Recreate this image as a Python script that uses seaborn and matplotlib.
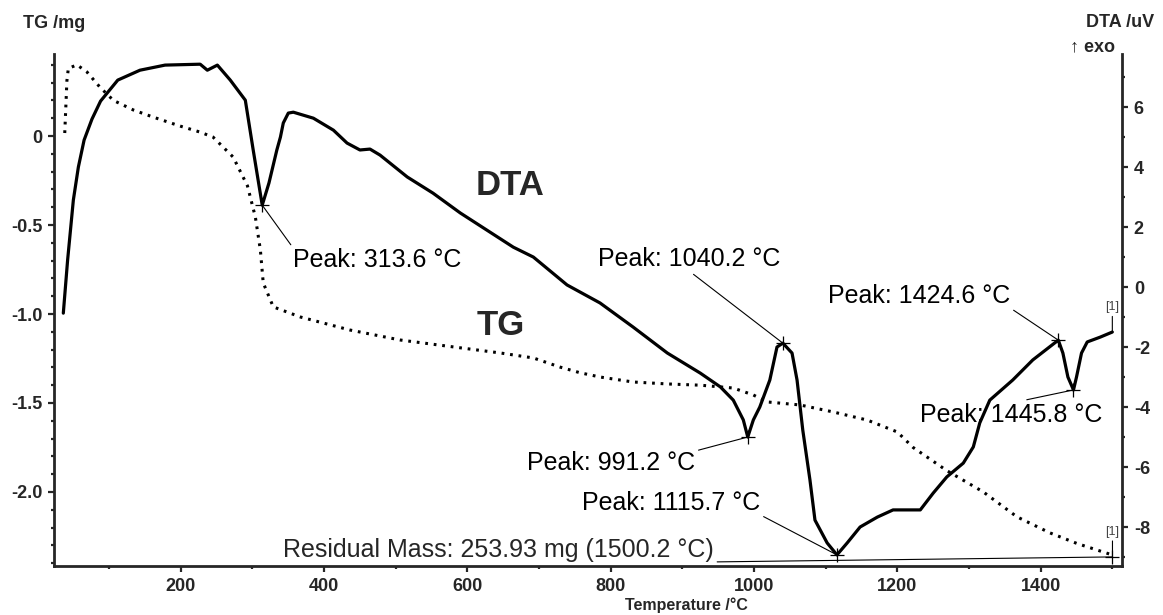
import matplotlib
matplotlib.use("Agg")
import matplotlib.pyplot as plt
from matplotlib.ticker import MultipleLocator
import seaborn as sns

# ---------------- data ----------------
tg_temp = [38, 41, 43, 55, 69, 87, 106, 134, 161, 199, 227, 245, 273, 293, 304, 311,
           315, 329, 367, 436, 506, 590, 646, 692, 729, 757, 785, 831, 879, 925, 971,
           999, 1018, 1064, 1110, 1158, 1200, 1222, 1269, 1320, 1367, 1413, 1451, 1497, 1500.2]
tg_mass = [0.017, 0.31, 0.38, 0.40, 0.36, 0.275, 0.20, 0.146, 0.107, 0.056, 0.022, -0.006,
           -0.118, -0.28, -0.455, -0.64, -0.825, -0.96, -1.017, -1.09, -1.146, -1.19, -1.219,
           -1.247, -1.298, -1.33, -1.354, -1.382, -1.393, -1.40, -1.416, -1.455, -1.494, -1.511,
           -1.55, -1.596, -1.663, -1.75, -1.88, -2.0, -2.14, -2.23, -2.29, -2.35, -2.365]

dta_temp = [36, 42, 50, 57, 65, 76, 88, 112, 143, 178, 227, 237, 251, 269, 290, 301, 313.6,
            323, 334, 339, 343, 350, 357, 385, 413, 432, 450, 464, 478, 516, 552, 590, 627,
            664, 692, 739, 785, 831, 879, 925, 953, 971, 985, 991.2, 999, 1008, 1022, 1032,
            1040.2, 1053, 1060, 1068, 1078, 1085, 1102, 1115.7, 1130, 1148, 1172, 1194, 1232,
            1250, 1269, 1292, 1306, 1315, 1329, 1361, 1389, 1424.6, 1431, 1438, 1445.8, 1450,
            1457, 1465, 1483, 1500]
dta_uv = [-0.87, 0.9, 2.9, 4.0, 4.9, 5.6, 6.2, 6.9, 7.23, 7.4, 7.43, 7.23, 7.4, 6.9, 6.23,
          4.57, 2.73, 3.47, 4.57, 5.0, 5.47, 5.8, 5.83, 5.63, 5.23, 4.8, 4.57, 4.6, 4.4, 3.67,
          3.13, 2.47, 1.9, 1.33, 1.0, 0.07, -0.53, -1.33, -2.2, -2.87, -3.33, -3.77, -4.43,
          -5.0, -4.43, -4.0, -3.1, -2.0, -1.87, -2.2, -3.1, -4.77, -6.43, -7.77, -8.53, -8.93,
          -8.53, -8.0, -7.67, -7.43, -7.43, -6.87, -6.33, -5.87, -5.33, -4.53, -3.77, -3.1,
          -2.43, -1.77, -2.2, -3.0, -3.43, -3.0, -2.2, -1.83, -1.67, -1.5]

peak_temps = [313.6, 1040.2, 991.2, 1115.7, 1424.6, 1445.8]
peak_vals = [2.73, -1.87, -5.0, -8.93, -1.77, -3.43]
peak_labels = ["Peak: 313.6 °C", "Peak: 1040.2 °C", "Peak: 991.2 °C",
               "Peak: 1115.7 °C", "Peak: 1424.6 °C", "Peak: 1445.8 °C"]

residual_temp = 1500.2
residual_mass = -2.365
residual_label = "Residual Mass: 253.93 mg (1500.2 °C)"

x_ticks = [200, 400, 600, 800, 1000, 1200, 1400]
x_tick_labels = ["200", "400", "600", "800", "1000", "1200", "1400"]
tg_ticks = [-2.0, -1.5, -1.0, -0.5, 0.0]
tg_tick_labels = ["-2.0", "-1.5", "-1.0", "-0.5", "0"]
dta_ticks = [-8, -6, -4, -2, 0, 2, 4, 6]
dta_tick_labels = ["-8", "-6", "-4", "-2", "0", "2", "4", "6"]

# ---------------- layout ----------------
ann_text_pos = [(356.8, 0.667), (782.3, 0.70), (683.3, -6.1), (760.0, -7.43),
                (1103.3, -0.533), (1231.6, -4.5)]
ann_relpos = [(0, 1), (0.5, 0), (1, 1), (1, 0), (1, 0), (0.5, 1)]

sns.set_style("ticks")
plt.rcParams['font.family'] = ['Liberation Sans', 'DejaVu Sans']

W, H = 1163, 615
fig = plt.figure(figsize=(W / 100, H / 100), dpi=100)
ax = fig.add_axes([54 / W, 1 - 566 / H, (1122 - 54) / W, (566 - 54) / H])
ax2 = ax.twinx()

sns.lineplot(x=tg_temp, y=tg_mass, ax=ax, color='black', lw=2.2,
             linestyle=(0, (0.9, 1.9)), estimator=None, sort=False)
sns.lineplot(x=dta_temp, y=dta_uv, ax=ax2, color='black', lw=2.3,
             estimator=None, sort=False)

ax.set_xlim(23, 1513.5)
ax.set_ylim(-2.416, 0.461)
ax2.set_ylim(-9.3, 7.77)

# spines
for a in (ax, ax2):
    a.spines['top'].set_visible(False)
    for s in a.spines.values():
        s.set_linewidth(2)
ax.spines['right'].set_visible(False)
ax2.spines['left'].set_visible(False)
ax2.spines['bottom'].set_visible(False)

ax.set_xticks(x_ticks)
ax.set_xticklabels(x_tick_labels, fontsize=13, fontweight='bold')
ax.set_yticks(tg_ticks)
ax.set_yticklabels(tg_tick_labels, fontsize=13, fontweight='bold')
ax2.set_yticks(dta_ticks)
ax2.set_yticklabels(dta_tick_labels, fontsize=13, fontweight='bold')
ax.xaxis.set_minor_locator(MultipleLocator(100))
ax.yaxis.set_minor_locator(MultipleLocator(0.1))
ax2.yaxis.set_minor_locator(MultipleLocator(1))
ax.tick_params(which='major', length=4.5, width=1.6, pad=4, direction='out')
ax.tick_params(which='minor', length=2.5, width=1.6, direction='out')
ax2.tick_params(which='major', length=4.5, width=1.6, pad=4, direction='out')
ax2.tick_params(which='minor', length=2.5, width=1.6, direction='out')
ax.set_xlabel("")
ax.set_ylabel("")
ax2.set_ylabel("")

# peak markers and annotations
sns.scatterplot(x=peak_temps, y=peak_vals, ax=ax2, marker='+', s=90,
                color='black', linewidth=0.9, zorder=5)
for t, v, lab, pos, rp in zip(peak_temps, peak_vals, peak_labels, ann_text_pos, ann_relpos):
    ax2.annotate(lab, xy=(t, v), xytext=pos, textcoords='data',
                 fontsize=18, ha='left', va='baseline', color='black',
                 arrowprops=dict(arrowstyle='-', color='black', lw=0.8,
                                 shrinkA=0, shrinkB=0, relpos=rp))

# residual mass annotation
ax.annotate(residual_label, xy=(residual_temp, residual_mass), xytext=(342.8, residual_mass),
            textcoords='data', fontsize=18, ha='left', va='baseline',
            arrowprops=dict(arrowstyle='-', color='black', lw=0.8,
                            shrinkA=0, shrinkB=0, relpos=(1, 0)))
sns.scatterplot(x=[residual_temp], y=[residual_mass], ax=ax, marker='+', s=90,
                color='black', linewidth=0.9, zorder=5)

# end markers [1]
ax2.annotate("[1]", xy=(dta_temp[-1], dta_uv[-1]), xytext=(dta_temp[-1], -0.77),
             textcoords='data', fontsize=9, ha='center', va='baseline', color='#444444',
             arrowprops=dict(arrowstyle='-', color='black', lw=0.8,
                             shrinkA=0, shrinkB=0, relpos=(0.5, 0)))
ax.annotate("[1]", xy=(residual_temp, residual_mass), xytext=(residual_temp, -2.24),
            textcoords='data', fontsize=9, ha='center', va='baseline', color='#444444',
            arrowprops=dict(arrowstyle='-', color='black', lw=0.8,
                            shrinkA=0, shrinkB=0, relpos=(0.5, 0)))

# curve labels
ax2.text(660, 3.4, "DTA", fontsize=25, fontweight='bold', ha='center', va='center')
ax2.text(647, -1.27, "TG", fontsize=25, fontweight='bold', ha='center', va='center')

# axis titles
fig.text(23 / W, 1 - 28 / H, "TG /mg", fontsize=13, fontweight='bold', ha='left', va='baseline')
fig.text(1120 / W, 1 - 27 / H, "DTA /uV", fontsize=13, fontweight='bold', ha='center', va='baseline')
fig.text(1115 / W, 1 - 51 / H, "↑ exo", fontsize=13, fontweight='bold', ha='right', va='baseline')
fig.text(686 / W, 1 - 610 / H, "Temperature /°C", fontsize=11.5, fontweight='bold',
         ha='center', va='baseline')

fig.savefig("out.png", dpi=100)
